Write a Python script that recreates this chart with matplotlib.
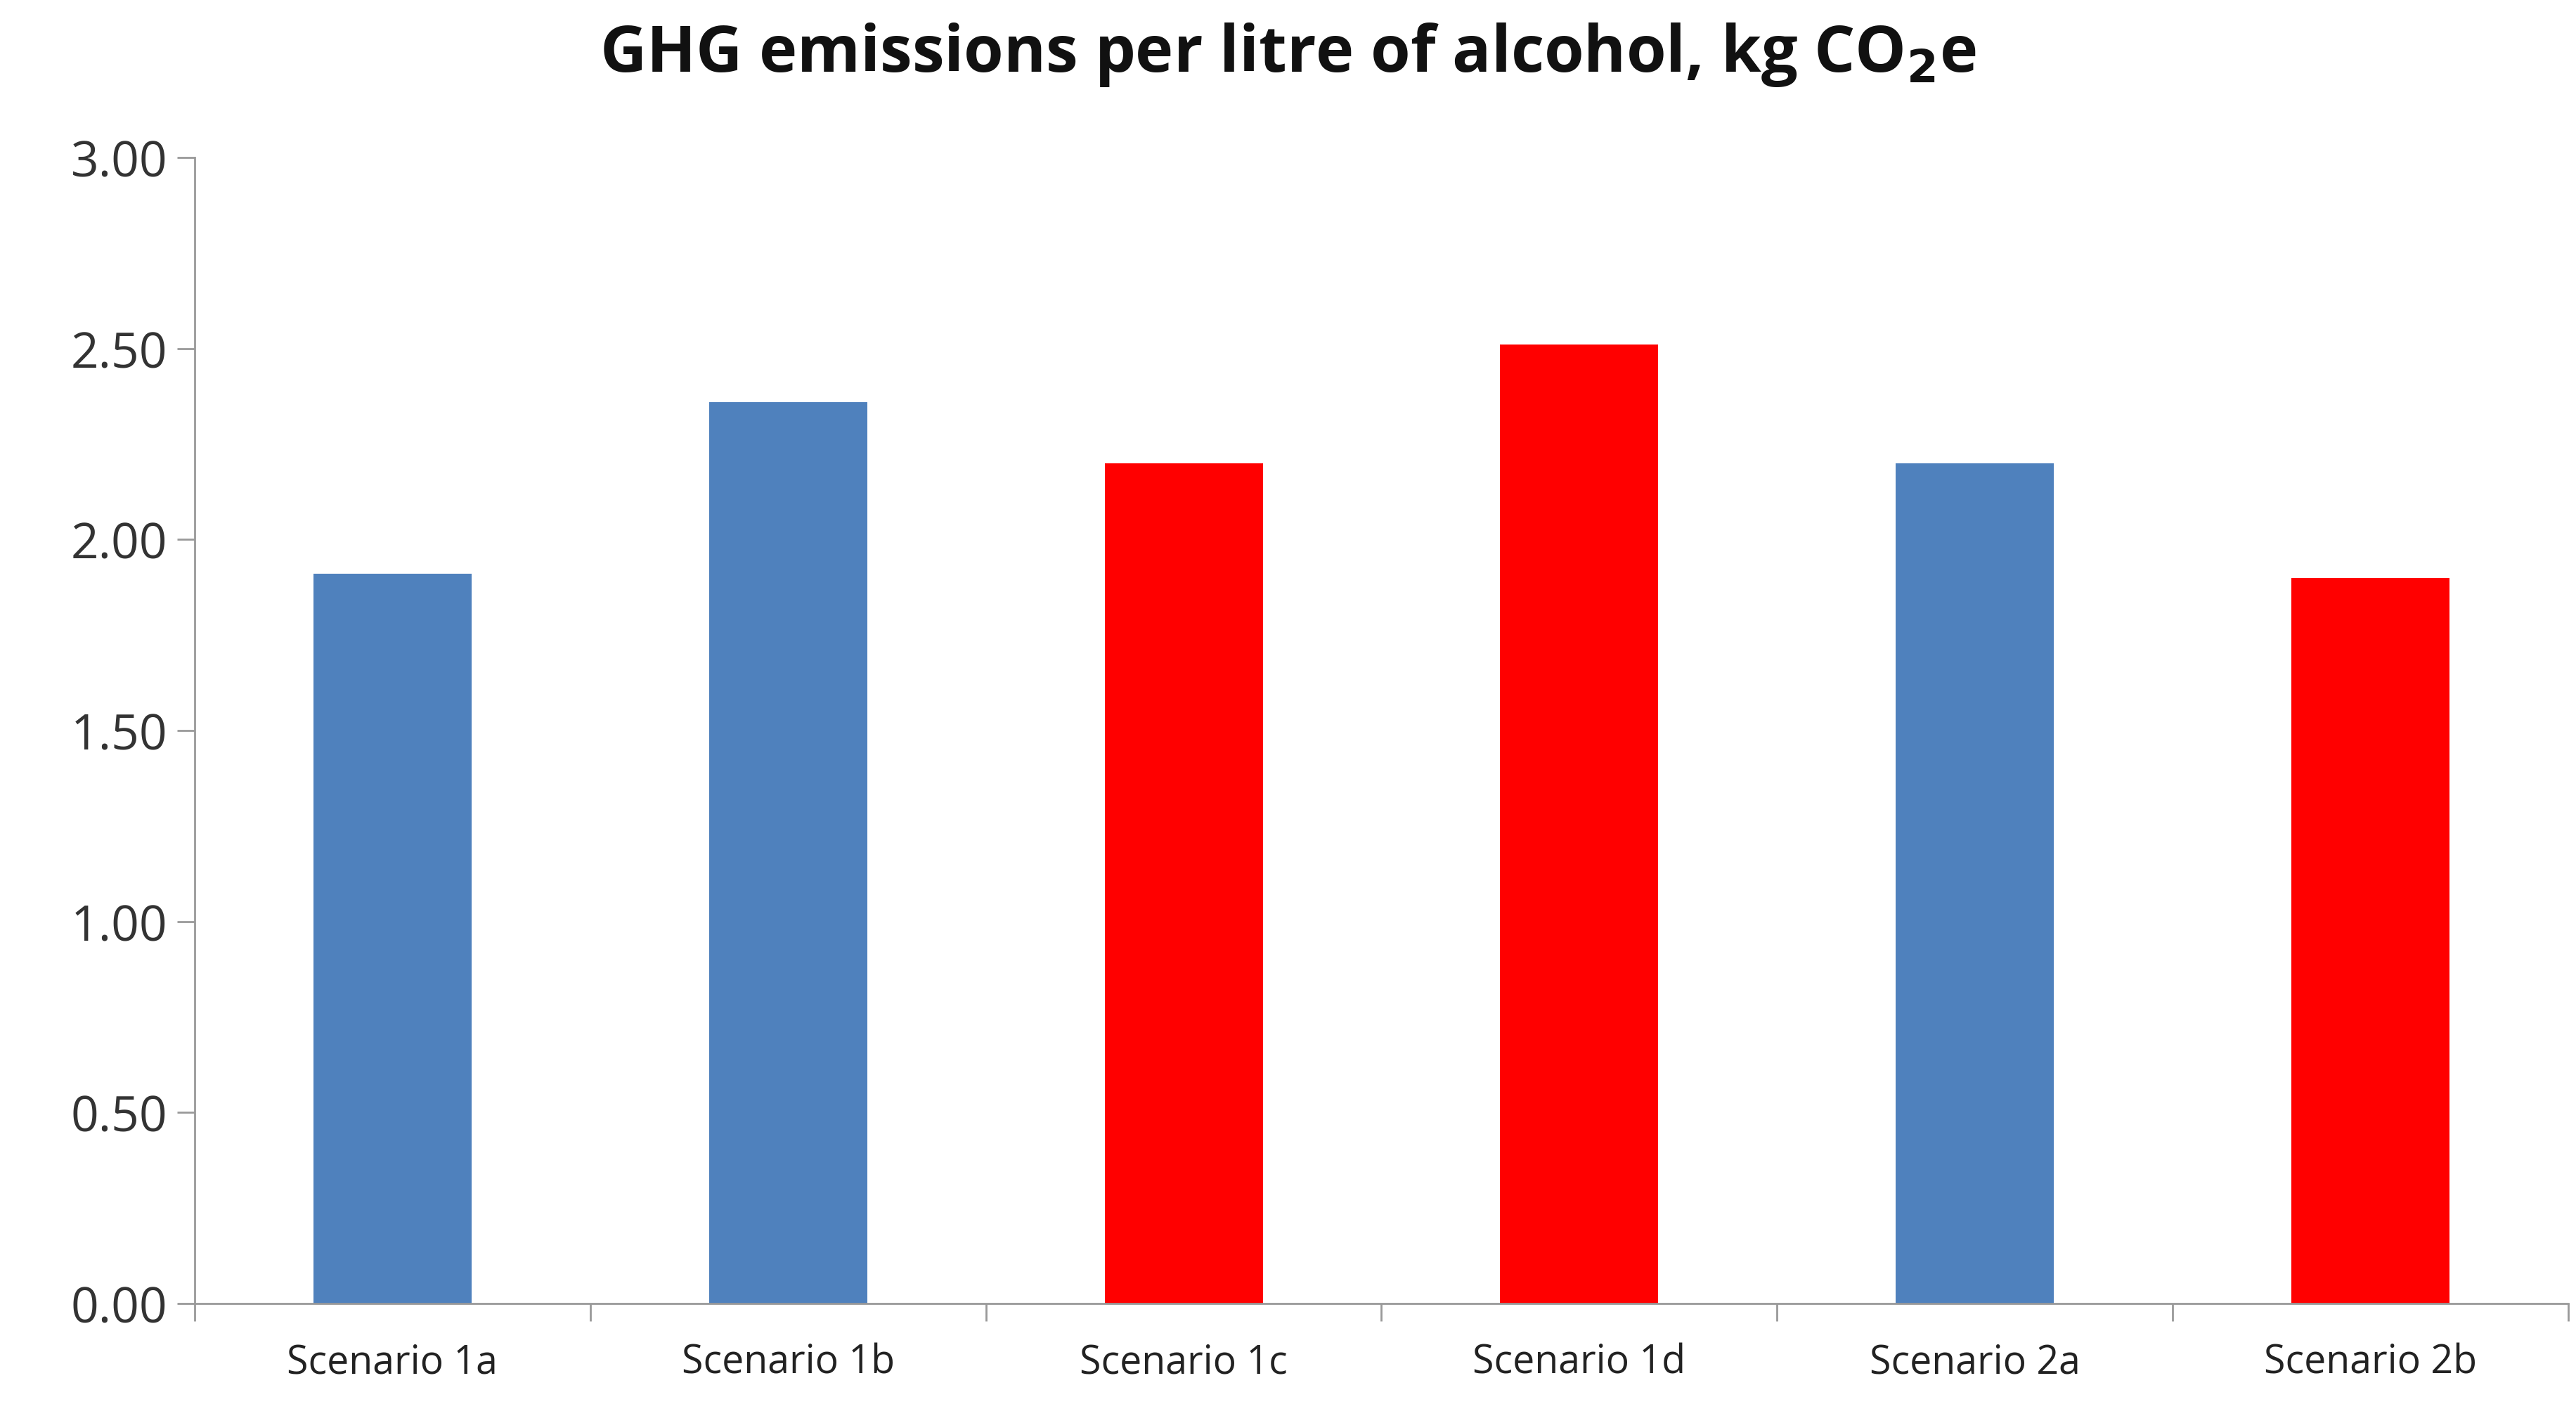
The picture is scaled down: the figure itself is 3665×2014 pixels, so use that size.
import matplotlib
matplotlib.use("Agg")
import matplotlib.pyplot as plt
import numpy as np

categories = ["Scenario 1a", "Scenario 1b", "Scenario 1c", "Scenario 1d", "Scenario 2a", "Scenario 2b"]
values = [1.91, 2.36, 2.20, 2.51, 2.20, 1.90]
colors = ["#4F81BD", "#4F81BD", "#FF0000", "#FF0000", "#4F81BD", "#FF0000"]
yticks = [0.0, 0.5, 1.0, 1.5, 2.0, 2.5, 3.0]

plt.rcParams['font.family'] = ['Open Sans', 'DejaVu Sans']
fig = plt.figure(figsize=(36.66, 20.15), dpi=100)
ax = fig.add_axes([277/3666, 1-1855/2015, (3654-277)/3666, (1855-225)/2015])
x = np.arange(len(categories))
ax.bar(x, values, width=0.4, color=colors)
ax.set_xlim(-0.5, len(categories)-0.5)
ax.set_ylim(0, 3.0)
ax.set_yticks(yticks)
ax.set_yticklabels([f"{v:.2f}" for v in yticks], fontsize=50, color="#333333")
ax.set_xticks(x)
ax.set_xticklabels(categories, fontsize=40, color="#222222")
ax.tick_params(axis='x', length=0, pad=40)
ax.set_xticks(np.arange(-0.5, len(categories)), minor=True)
ax.tick_params(axis='x', which='minor', length=18, width=2, color="#999999", direction='out')
ax.tick_params(axis='y', length=18, width=2, color="#999999", pad=10)
for s in ['top', 'right']:
    ax.spines[s].set_visible(False)
for s in ['left', 'bottom']:
    ax.spines[s].set_color("#999999")
    ax.spines[s].set_linewidth(2)
fig.text(0.5, 0.985, r"GHG emissions per litre of alcohol, kg CO$_\mathbf{2}$e", ha='center', va='top',
         fontsize=66, fontweight='bold', color="#111111")
fig.savefig("out.png", dpi=100)
